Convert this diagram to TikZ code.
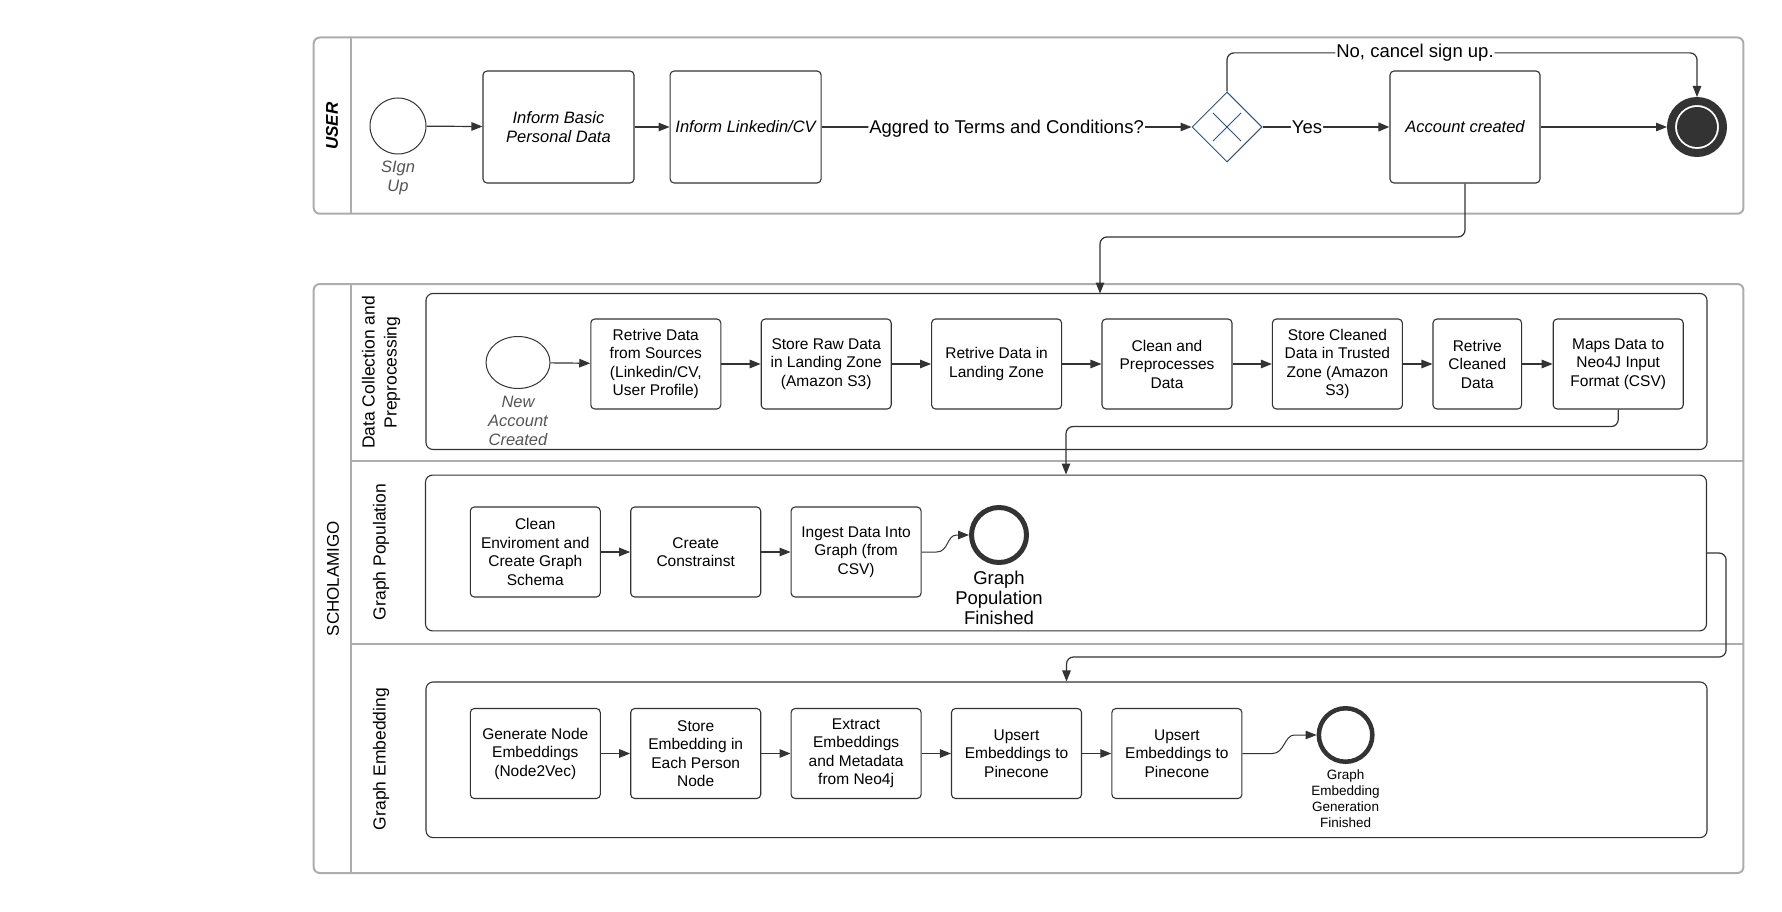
\documentclass[tikz,border=0pt]{standalone}
\usepackage{fontspec}
\setmainfont{Liberation Sans}
\usepackage{xcolor}
\usetikzlibrary{positioning,shapes.geometric,arrows.meta}
\definecolor{ink}{HTML}{333333}
\definecolor{poolgray}{HTML}{ADADAD}
\definecolor{gateblue}{HTML}{2F5281}
\definecolor{evgray}{HTML}{555555}

\begin{document}
\begin{tikzpicture}[x=1pt, y=-1pt,
  task/.style = {draw=ink, line width=1.1pt, rounded corners=4pt,
    minimum width=130pt, minimum height=90pt, inner sep=2pt, align=center,
    font=\fontsize{15.5}{18.5}\selectfont},
  usertask/.style = {task, minimum width=151pt, minimum height=112pt,
    font=\fontsize{16.5}{19.5}\selectfont\itshape},
  subproc/.style = {draw=ink, line width=1.1pt, rounded corners=7pt,
    minimum width=1281pt, minimum height=156pt},
  flow/.style = {draw=ink, line width=1.2pt, rounded corners=7pt,
    -{Triangle[length=11pt, width=8.5pt]}},
  wavy/.style = {flow, sharp corners, line width=1pt},
  flowlbl/.style = {fill=white, inner sep=1pt, font=\fontsize{18.5}{21}\selectfont},
  pool/.style = {draw=poolgray, line width=2pt},
  lanelbl/.style = {rotate=90, align=center, font=\fontsize{17.5}{22}\selectfont},
  startev/.style = {circle, draw=ink, line width=1pt, minimum size=56pt, inner sep=0pt},
  endev/.style = {circle, draw=ink, line width=5pt, minimum size=55pt, inner sep=0pt},
  evlbl/.style = {align=center, text=evgray, font=\fontsize{16.5}{19}\selectfont\itshape}]

  \path[fill=white, use as bounding box] (0,0) rectangle (1782,912);

  % pools and lanes
  \draw[pool, rounded corners=6pt] (313.7,37.5) rectangle (1743.4,213.7);
  \draw[pool] (351.2,37.5) -- (351.2,213.7);
  \draw[pool, rounded corners=6pt] (313.7,284) rectangle (1743.4,873);
  \draw[pool] (351.2,284) -- (351.2,873);
  \draw[pool] (351.2,461.4) -- (1743.4,461.4);
  \draw[pool] (351.2,644.4) -- (1743.4,644.4);

  \node[rotate=90, font=\fontsize{17}{20}\selectfont\bfseries\itshape] (userlbl) at (332,126) {USER};
  \node[rotate=90, font=\fontsize{17}{20}\selectfont] (scholbl) at (333,578.5) {SCHOLAMIGO};
  \node[lanelbl] (lane1) at (381,372.5) {Data Collection and\\Preprocessing};
  \node[lanelbl] (lane2) at (381,552) {Graph Population};
  \node[lanelbl] (lane3) at (381,759) {Graph Embedding};

  % user pool
  \node[startev] (ustart) at (398,126) {};
  \node[evlbl] (ustartlbl) at (398,177.5) {SIgn\\Up};
  \node[usertask] (inf1) at (558.5,127) {Inform Basic\\Personal Data};
  \node[usertask, right=35pt of inf1] (inf2) {Inform Linkedin/CV};
  \node[diamond, draw=gateblue, line width=1pt, minimum size=70pt, inner sep=0pt] (gw) at (1227,127) {};
  \draw[gateblue, line width=1pt] (gw.center) +(-14,-14) -- +(14,14)
    (gw.center) +(-14,14) -- +(14,-14);
  \node[usertask, minimum width=150pt] (acct) at (1465,127) {Account created};
  \node[circle, draw=ink, line width=8pt, minimum size=52pt, inner sep=0pt] (uend) at (1697,127) {};
  \fill[ink] (uend.center) circle (20);

  \draw[flow] (ustart) -- (inf1);
  \draw[flow] (inf1) -- (inf2);
  \draw[flow] (inf2) -- node[flowlbl, yshift=-2pt] {Aggred to Terms and Conditions?} (gw);
  \draw[flow, line width=2.2pt] (gw) -- node[flowlbl, pos=0.35] {Yes} (acct);
  \draw[flow] (gw.north) -- ++(0,-38.6) -| node[flowlbl, pos=0.2] {No, cancel sign up.} (uend.north);
  \draw[flow] (acct) -- (uend);

  % data collection and preprocessing
  \node[subproc] (sp1) at (1066.5,371.5) {};
  \coordinate (sp1in) at (1100,293.5);
  \draw[flow] (acct.south) -- ++(0,53.4) -| (sp1in);

  \node[ellipse, draw=ink, line width=1pt, minimum width=64pt, minimum height=52pt] (nstart) at (518,362.5) {};
  \node[evlbl] (nstartlbl) at (518,420.5) {New\\Account\\Created};
  \node[task] (a1) at (655.8,364) {Retrive Data\\from Sources\\(Linkedin/CV,\\User Profile)};
  \node[task, right=39.3pt of a1] (a2) {Store Raw Data\\in Landing Zone\\(Amazon S3)};
  \node[task, right=39.3pt of a2] (a3) {Retrive Data in\\Landing Zone};
  \node[task, right=39.3pt of a3] (a4) {Clean and\\Preprocesses\\Data};
  \node[task, right=39.3pt of a4] (a5) {Store Cleaned\\Data in Trusted\\Zone (Amazon\\S3)};
  \node[task, minimum width=88.6pt, right=29.5pt of a5] (a6) {Retrive\\Cleaned\\Data};
  \node[task, right=30.5pt of a6] (a7) {Maps Data to\\Neo4J Input\\Format (CSV)};

  \draw[flow] (nstart) -- (a1);
  \foreach \s/\t in {a1/a2, a2/a3, a3/a4, a4/a5, a5/a6, a6/a7}
    \draw[flow] (\s) -- (\t);

  % graph population
  \node[subproc, minimum height=155.8pt] (sp2) at (1066,553) {};
  \draw[flow] (a7.south) -- ++(0,17) -| (sp2.north);

  \node[task] (b1) at (535.3,552) {Clean\\Enviroment and\\Create Graph\\Schema};
  \node[task, right=29.3pt of b1] (b2) {Create\\Constrainst};
  \node[task, right=29.3pt of b2] (b3) {Ingest Data Into\\Graph (from\\CSV)};
  \node[endev] (pend) at (999,535) {};
  \node[align=center, font=\fontsize{18.5}{20}\selectfont] (pendlbl) at (999,598) {Graph\\Population\\Finished};

  \draw[flow] (b1) -- (b2);
  \draw[flow] (b2) -- (b3);
  \draw[wavy] (b3.east) -- ++(15,0) .. controls +(12,0) and +(-10,0) .. ++(20,-17) -- (pend.west);

  % graph embedding
  \node[subproc, minimum height=155.6pt] (sp3) at (1066.5,759.8) {};
  \draw[flow] (sp2.east) -- ++(19,0) -- ++(0,104) -| (sp3.north);

  \node[task] (c1) at (535.3,753.5) {Generate Node\\Embeddings\\(Node2Vec)};
  \node[task, right=29.3pt of c1] (c2) {Store\\Embedding in\\Each Person\\Node};
  \node[task, right=29.3pt of c2] (c3) {Extract\\Embeddings\\and Metadata\\from Neo4j};
  \node[task, right=29.3pt of c3] (c4) {Upsert\\Embeddings to\\Pinecone};
  \node[task, right=29.3pt of c4] (c5) {Upsert\\Embeddings to\\Pinecone};
  \node[endev, line width=4.5pt, minimum size=53.5pt] (eend) at (1345.6,735) {};
  \node[align=center, font=\fontsize{13.5}{16}\selectfont] (eendlbl) at (1345.6,799) {Graph\\Embedding\\Generation\\Finished};

  \foreach \s/\t in {c1/c2, c2/c3, c3/c4, c4/c5}
    \draw[flow] (\s) -- (\t);
  \draw[wavy] (c5.east) -- ++(30,0) .. controls +(12,0) and +(-10,0) .. ++(22,-18.5) -- (eend.west);
\end{tikzpicture}
\end{document}
